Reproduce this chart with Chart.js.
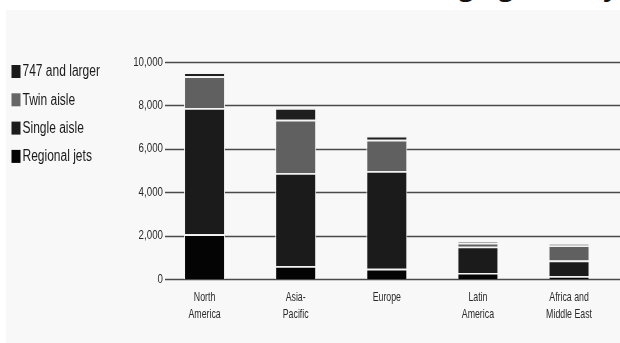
<!DOCTYPE html>
<html>
<head>
<meta charset="utf-8">
<script src="https://cdn.jsdelivr.net/npm/chart.js@4/dist/chart.umd.min.js"></script>
<style>
  html, body { margin: 0; padding: 0; background: #ffffff; overflow: hidden; }
  #wrap { position: relative; width: 620px; height: 343px; overflow: hidden; }
  #panel { position: absolute; left: 6px; top: 10px; right: 0; bottom: 0; background: #f8f8f8; }
  #title { position: absolute; right: 2px; top: -27px; font: bold 26px "Open Sans", sans-serif; line-height: 26px; color: #111; white-space: nowrap; }
  canvas { position: absolute; left: 0; top: 0; }
</style>
</head>
<body>
<div id="wrap">
  <div id="panel"></div>
  <div id="title">Changing fleet by</div>
  <canvas id="c" width="620" height="343"></canvas>
</div>
<script>
// Regions along the x axis (multi-line labels)
const regions = [['North', 'America'], ['Asia-', 'Pacific'], ['Europe'], ['Latin', 'America'], ['Africa and', 'Middle East']];

// Airplanes by size class for each region
const regionalJets = [2070, 610, 480, 290, 140];
const singleAisle  = [5810, 4270, 4500, 1210, 720];
const twinAisle    = [1460, 2460, 1440, 180, 700];
const largeJets    = [180, 540, 180, 50, 50];

// Series names as listed in the key (top to bottom)
const seriesNames = ['747 and larger', 'Twin aisle', 'Single aisle', 'Regional jets'];

// Value axis range
const yMin = 0, yMax = 10000, yStep = 2000;

const FONT = "'Liberation Sans', Arial, sans-serif";

// Draw text squeezed horizontally to get a condensed face
function condensedText(ctx, text, x, y, size, squeeze, align) {
  ctx.save();
  ctx.font = size + 'px ' + FONT;
  ctx.textAlign = align;
  ctx.textBaseline = 'middle';
  ctx.translate(x, y);
  ctx.scale(squeeze, 1);
  ctx.fillText(text, 0, 0);
  ctx.restore();
}

// Horizontal rules at every value tick, drawn under the bars
const gridRules = {
  id: 'gridRules',
  beforeDatasetsDraw(chart) {
    const y = chart.scales.y, ctx = chart.ctx;
    const x0 = chart.chartArea.left + 6, x1 = chart.width;
    ctx.save();
    ctx.strokeStyle = '#4a4a4a';
    ctx.lineWidth = 1.6;
    y.ticks.forEach(t => {
      const py = Math.round(y.getPixelForValue(t.value)) + 0.5;
      ctx.beginPath();
      ctx.moveTo(x0, py);
      ctx.lineTo(x1, py);
      ctx.stroke();
    });
    ctx.restore();
  }
};

// Axis labels in a condensed face, placed from the chart's scales
const axisLabels = {
  id: 'axisLabels',
  afterDraw(chart) {
    const ctx = chart.ctx, xs = chart.scales.x, ys = chart.scales.y;
    ctx.save();
    ctx.fillStyle = '#2a2a2a';
    ys.ticks.forEach(t => {
      condensedText(ctx, t.value.toLocaleString('en-US'), chart.chartArea.left + 4, ys.getPixelForValue(t.value), 13, 0.75, 'right');
    });
    chart.data.labels.forEach((lines, i) => {
      const cx = xs.getPixelForValue(i);
      lines.forEach((line, j) => {
        condensedText(ctx, line, cx, chart.chartArea.bottom + 18 + j * 16.8, 13.5, 0.65, 'center');
      });
    });
    ctx.restore();
  }
};

// Key at the left: square swatch plus condensed label
const sideKey = {
  id: 'sideKey',
  afterDraw(chart) {
    const ctx = chart.ctx;
    const ds = chart.data.datasets.slice().reverse();
    ctx.save();
    ds.forEach((d, i) => {
      const cy = 71.5 + i * 28.3;
      ctx.fillStyle = d.keyColor;
      ctx.fillRect(11.5, cy - 6.5, 9, 13);
      ctx.fillStyle = '#1a1a1a';
      condensedText(ctx, d.label, 22.5, cy + 0.5, 16, 0.75, 'left');
    });
    ctx.restore();
  }
};

const barStyle = {
  borderColor: '#f4f4f4',
  borderWidth: { top: 1.6, left: 1, right: 1, bottom: 0 },
  borderSkipped: false,
  barPercentage: 0.45,
  categoryPercentage: 1.0
};

new Chart(document.getElementById('c'), {
  type: 'bar',
  data: {
    labels: regions,
    datasets: [
      Object.assign({ label: seriesNames[3], data: regionalJets, backgroundColor: '#040404', keyColor: '#050505' }, barStyle),
      Object.assign({ label: seriesNames[2], data: singleAisle,  backgroundColor: '#1b1b1b', keyColor: '#1c1c1c' }, barStyle),
      Object.assign({ label: seriesNames[1], data: twinAisle,    backgroundColor: '#606060', keyColor: '#666666' }, barStyle),
      Object.assign({ label: seriesNames[0], data: largeJets,    backgroundColor: '#1e1e1e', keyColor: '#1a1a1a' }, barStyle)
    ]
  },
  options: {
    responsive: false,
    animation: false,
    devicePixelRatio: 1,
    layout: { padding: { left: 119, right: 5.4, top: 62, bottom: 0 } },
    plugins: { legend: { display: false }, tooltip: { enabled: false } },
    scales: {
      x: {
        stacked: true,
        grid: { display: false },
        border: { display: false },
        ticks: { display: false },
        afterFit(s) { s.height = 63.7; }
      },
      y: {
        stacked: true,
        min: yMin,
        max: yMax,
        grid: { display: false, drawTicks: false },
        border: { display: false },
        ticks: { display: false, stepSize: yStep },
        afterFit(s) { s.width = 40; }
      }
    }
  },
  plugins: [gridRules, axisLabels, sideKey]
});
</script>
</body>
</html>
